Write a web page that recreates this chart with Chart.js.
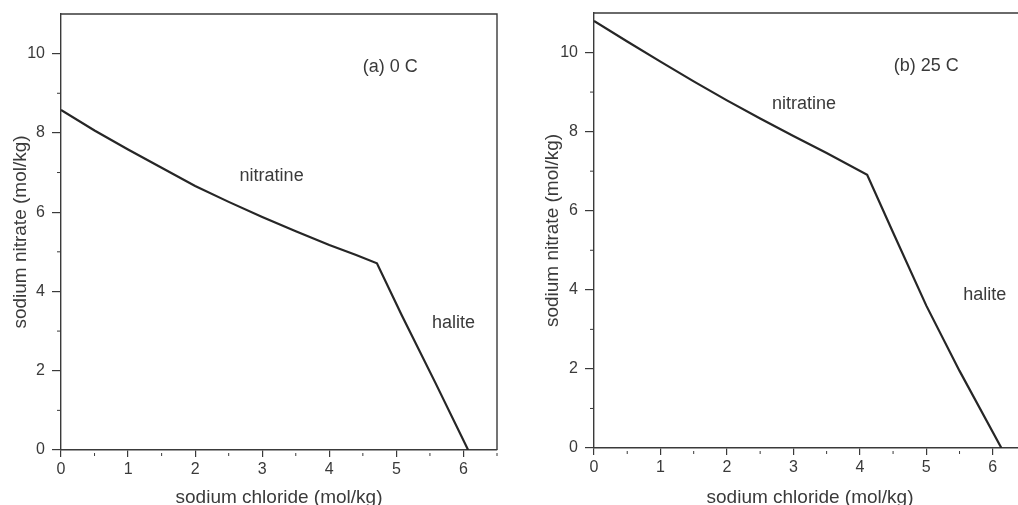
<!DOCTYPE html>
<html>
<head>
<meta charset="utf-8">
<script src="https://cdn.jsdelivr.net/npm/chart.js@4.4.1/dist/chart.umd.min.js"></script>
<style>
    html, body { margin: 0; padding: 0; background: #fff; overflow: hidden; }
    #wrap { position: relative; width: 1018px; height: 505px; overflow: hidden; }
    canvas { position: absolute; top: 0; }
    #panelA { left: 0; }
    #panelB { left: 509px; }
</style>
</head>
<body>
<div id="wrap">
    <canvas id="panelA" width="509" height="505"></canvas>
    <canvas id="panelB" width="560" height="505"></canvas>
</div>
<script>
/* --------------- Saturation curves, NaCl vs NaNO3 (mol/kg) --------------------- */
const naclAt0 = [0, 0.5, 1, 1.5, 2, 2.5, 3, 3.5, 4, 4.4, 4.71, 5.08, 5.58, 6.07];
const nitrateAt0 = [8.58, 8.06, 7.58, 7.12, 6.66, 6.26, 5.88, 5.52, 5.17, 4.92, 4.71, 3.4, 1.7, 0];

const naclAt25 = [0, 0.5, 1, 1.5, 2, 2.5, 3, 3.5, 4.11, 4.5, 5.0, 5.5, 6.13];
const nitrateAt25 = [10.8, 10.28, 9.77, 9.27, 8.79, 8.33, 7.89, 7.46, 6.91, 5.45, 3.6, 1.95, 0];

/* --------------- Tick labels and texts --------------------- */
const xTicks = [0, 1, 2, 3, 4, 5, 6];
const yTicks = [0, 2, 4, 6, 8, 10];
const panelTitles = ["(a) 0 C", "(b) 25 C"];
const fieldNames = ["nitratine", "halite"];
const xTitle = "sodium chloride (mol/kg)";
const yTitle = "sodium nitrate (mol/kg)";

const FONT = "'Liberation Sans', Arial, Helvetica, sans-serif";
const INK = "#3a3a3a";

/* --------------- Frame, minor ticks and field labels --------------------- */
const framePlugin = {
    id: "frame",
    afterDraw(chart, args, opts) {
        const { ctx, chartArea: a, scales: { x, y } } = chart;
        ctx.save();
        ctx.strokeStyle = INK;
        ctx.lineWidth = 1.4;
        ctx.beginPath();
        ctx.moveTo(a.left, a.top);
        ctx.lineTo(a.right, a.top);
        ctx.lineTo(a.right, a.bottom);
        ctx.stroke();

        // minor ticks
        ctx.lineWidth = 1;
        ctx.beginPath();
        for (let v = 0.5; v < 6.6; v += 1) {
            const px = x.getPixelForValue(v);
            ctx.moveTo(px, a.bottom + 3);
            ctx.lineTo(px, a.bottom + 6);
        }
        for (let v = 1; v < 11; v += 2) {
            const py = y.getPixelForValue(v);
            ctx.moveTo(a.left - 4, py);
            ctx.lineTo(a.left, py);
        }
        ctx.stroke();

        // labels inside the plot
        ctx.fillStyle = INK;
        ctx.textAlign = "center";
        ctx.textBaseline = "middle";
        ctx.font = "18px " + FONT;
        for (const n of opts.notes) {
            ctx.fillText(n.text, x.getPixelForValue(n.x), y.getPixelForValue(n.y));
        }
        ctx.restore();
    },
};

/* --------------- Chart builder --------------------- */
const makePanel = (canvasId, xs, ys, notes, axisW, axisH, pad, yTitlePad) => {
    return new Chart(document.getElementById(canvasId), {
        type: "scatter",
        plugins: [framePlugin],
        data: {
            datasets: [
                {
                    data: xs.map((v, i) => ({ x: v, y: ys[i] })),
                    showLine: true,
                    borderColor: "#262626",
                    borderWidth: 2.2,
                    pointRadius: 0,
                    tension: 0,
                },
            ],
        },
        options: {
            responsive: false,
            animation: false,
            events: [],
            layout: { padding: pad },
            plugins: {
                legend: { display: false },
                tooltip: { enabled: false },
                frame: { notes: notes },
            },
            scales: {
                x: {
                    type: "linear",
                    min: 0,
                    max: 6.5,
                    afterBuildTicks: (s) => { s.ticks = xTicks.map((v) => ({ value: v })); },
                    afterFit: (s) => { s.height = axisH; s.paddingLeft = 0; s.paddingRight = 0; },
                    grid: { drawOnChartArea: false, drawTicks: true, tickLength: 7, color: INK, lineWidth: 1.2 },
                    border: { display: true, color: INK, width: 1.4 },
                    ticks: { color: INK, font: { family: FONT, size: 16 }, padding: 3, maxRotation: 0 },
                    title: { display: true, text: xTitle, color: INK, font: { family: FONT, size: 19 }, padding: { top: 0, bottom: -4 } },
                },
                y: {
                    type: "linear",
                    min: 0,
                    max: 11,
                    afterBuildTicks: (s) => { s.ticks = yTicks.map((v) => ({ value: v })); },
                    afterFit: (s) => { s.width = axisW; s.paddingTop = 0; s.paddingBottom = 0; },
                    grid: { drawOnChartArea: false, drawTicks: true, tickLength: 9, color: INK, lineWidth: 1.2 },
                    border: { display: true, color: INK, width: 1.4 },
                    ticks: { color: INK, font: { family: FONT, size: 16 }, padding: 7 },
                    title: { display: true, text: yTitle, color: INK, font: { family: FONT, size: 19 }, padding: { top: yTitlePad, bottom: 0 } },
                },
            },
        },
    });
};

makePanel("panelA", naclAt0, nitrateAt0, [
    { text: panelTitles[0], x: 4.91, y: 9.65 },
    { text: fieldNames[0], x: 3.14, y: 6.9 },
    { text: fieldNames[1], x: 5.85, y: 3.2 },
], 61, 55, { top: 14, right: 12, left: 0, bottom: 0 }, 9);

makePanel("panelB", naclAt25, nitrateAt25, [
    { text: panelTitles[1], x: 5.0, y: 9.65 },
    { text: fieldNames[0], x: 3.16, y: 8.7 },
    { text: fieldNames[1], x: 5.88, y: 3.87 },
], 85, 57, { top: 13, right: 43, left: 0, bottom: 0 }, 32);
</script>
</body>
</html>
